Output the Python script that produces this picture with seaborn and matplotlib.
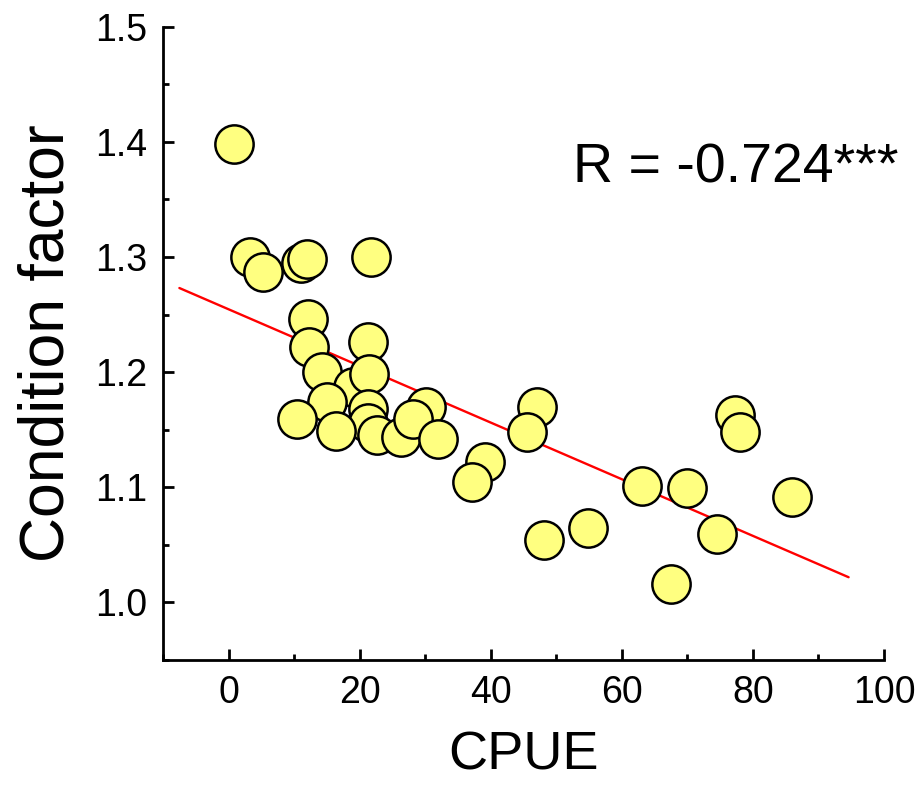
import numpy as np
import pandas as pd
import matplotlib
matplotlib.use("Agg")
import matplotlib.pyplot as plt
import seaborn as sns
from matplotlib.ticker import MultipleLocator

# ---- data ----
cpue = [0.8, 3.3, 5.3, 11.1, 11.9, 21.8, 12.1, 12.3, 21.3, 14.2, 19.0, 21.4,
        15.0, 30.2, 10.4, 21.3, 21.3, 16.4, 22.6, 26.3, 28.1, 32.0,
        47.1, 45.6, 39.1, 37.1, 48.1, 54.8, 63.1, 69.9, 74.5, 67.5,
        77.3, 78.0, 86.0]
condition = [1.398, 1.300, 1.287, 1.295, 1.298, 1.300, 1.246, 1.222, 1.226, 1.200, 1.1875, 1.198,
             1.174, 1.170, 1.159, 1.168, 1.156, 1.149, 1.1455, 1.144, 1.159, 1.142,
             1.170, 1.148, 1.122, 1.105, 1.054, 1.065, 1.101, 1.099, 1.059, 1.016,
             1.163, 1.148, 1.0915]

fit_x = [-7.5, 94.6]
fit_intercept = 1.2546
fit_slope = -0.00246

r_label = "R = -0.724***"
x_label = "CPUE"
y_label = "Condition factor"
x_ticks = [0, 20, 40, 60, 80, 100]
y_ticks = [1.0, 1.1, 1.2, 1.3, 1.4, 1.5]

# ---- plotting ----
sns.set_style("ticks")
plt.rcParams["font.family"] = ["Liberation Sans", "DejaVu Sans"]
plt.rcParams["text.color"] = "black"
plt.rcParams["axes.labelcolor"] = "black"
plt.rcParams["xtick.color"] = "black"
plt.rcParams["ytick.color"] = "black"

fig = plt.figure(figsize=(9.22, 7.92), dpi=100)
ax = fig.add_axes([163/922, 1 - 660/792, (884-163)/922, (660-26.7)/792])

df = pd.DataFrame({"x": cpue, "y": condition})
fit_df = pd.DataFrame({"x": fit_x, "y": [fit_intercept + fit_slope * v for v in fit_x]})

sns.lineplot(data=fit_df, x="x", y="y", ax=ax, color="#ff0000", linewidth=1.7, zorder=1)
sns.scatterplot(data=df, x="x", y="y", ax=ax, s=760, color="#ffff80",
                edgecolor="black", linewidth=1.8, zorder=3)

ax.set_xlim(-10, 100)
ax.set_ylim(0.95, 1.5)
ax.set_xticks(x_ticks)
ax.set_yticks(y_ticks)
ax.set_xticklabels([str(t) for t in x_ticks])
ax.set_yticklabels([f"{t:.1f}" for t in y_ticks])
ax.xaxis.set_minor_locator(MultipleLocator(10))
ax.yaxis.set_minor_locator(MultipleLocator(0.05))

for s in ["top", "right"]:
    ax.spines[s].set_visible(False)
for s in ["left", "bottom"]:
    ax.spines[s].set_linewidth(2.0)
    ax.spines[s].set_color("black")

ax.tick_params(which="major", direction="in", length=8, width=2.0, labelsize=27, pad=11,
               colors="black", labelcolor="black")
ax.tick_params(which="minor", direction="in", length=4, width=2.0, colors="black")

ax.set_xlabel(x_label, fontsize=39, labelpad=14, color="black")
ax.set_ylabel(y_label, fontsize=45, labelpad=14, color="black")

ax.text(52.5, 1.365, r_label, fontsize=40, ha="left", va="baseline", color="black")

fig.savefig("out.png", dpi=100)
